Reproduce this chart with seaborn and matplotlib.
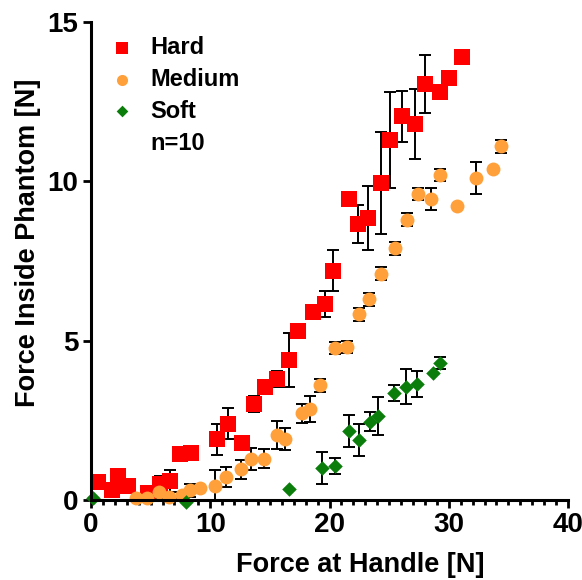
import matplotlib
matplotlib.use("Agg")
import matplotlib.pyplot as plt
from matplotlib.lines import Line2D
from matplotlib.ticker import MultipleLocator
import numpy as np
import pandas as pd
import seaborn as sns

# values
hard_x = [0.6, 1.8, 2.3, 3.1, 4.8, 5.8, 6.6, 7.5, 8.4, 10.6, 11.5, 12.7, 13.7,
          14.6, 15.6, 16.6, 17.4, 18.6, 19.6, 20.3, 21.6, 22.4, 23.2, 24.3,
          25.1, 26.1, 27.2, 28.0, 29.3, 30.0, 31.1]
hard_y = [0.55, 0.3, 0.75, 0.45, 0.22, 0.5, 0.6, 1.45, 1.47, 1.9, 2.4, 1.8,
          3.0, 3.55, 3.8, 4.4, 5.3, 5.9, 6.15, 7.2, 9.45, 8.65, 8.85, 9.95,
          11.3, 12.05, 11.8, 13.05, 12.8, 13.25, 13.9]
hard_err = [0.2, 0.0, 0.2, 0.0, 0.15, 0.25, 0.35, 0.0, 0.0, 0.5, 0.5, 0.0,
            0.25, 0.0, 0.25, 0.85, 0.2, 0.0, 0.4, 0.63, 0.0, 0.6, 1.0, 1.6,
            1.5, 0.8, 1.1, 0.9, 0.0, 0.0, 0.0]

medium_x = [3.8, 4.7, 5.7, 6.5, 7.6, 8.3, 9.1, 10.4, 11.3, 12.6, 13.4, 14.5,
            15.6, 16.3, 17.7, 18.4, 19.2, 20.5, 21.5, 22.5, 23.3, 24.3, 25.5,
            26.5, 27.4, 28.5, 29.3, 30.7, 32.3, 33.7, 34.4]
medium_y = [0.06, 0.06, 0.25, 0.1, 0.15, 0.3, 0.38, 0.45, 0.72, 0.97, 1.29,
            1.29, 2.04, 1.91, 2.72, 2.85, 3.6, 4.77, 4.8, 5.83, 6.3, 7.1, 7.9,
            8.8, 9.6, 9.45, 10.2, 9.22, 10.1, 10.4, 11.1]
medium_err = [0.0, 0.0, 0.2, 0.0, 0.1, 0.2, 0.0, 0.5, 0.3, 0.3, 0.35, 0.3,
              0.45, 0.35, 0.3, 0.4, 0.2, 0.2, 0.2, 0.2, 0.2, 0.2, 0.2, 0.2,
              0.2, 0.35, 0.2, 0.0, 0.5, 0.0, 0.2]

soft_x = [0.2, 8.0, 16.6, 19.4, 20.5, 21.6, 22.5, 23.4, 24.1, 25.4, 26.4,
          27.3, 28.7, 29.3]
soft_y = [0.06, -0.05, 0.34, 1.0, 1.07, 2.17, 1.88, 2.45, 2.64, 3.35, 3.55,
          3.64, 4.0, 4.3]
soft_err = [0.0, 0.0, 0.0, 0.5, 0.25, 0.5, 0.5, 0.3, 0.6, 0.25, 0.55, 0.4,
            0.0, 0.2]

groups = ["Hard", "Medium", "Soft"]
colors = {"Hard": "#FF0000", "Medium": "#FFA03A", "Soft": "#0A7D0A"}
markers = {"Hard": "s", "Medium": "o", "Soft": "D"}
sizes = {"Hard": 120, "Medium": 100, "Soft": 55}

df = pd.concat([
    pd.DataFrame({"x": hard_x, "y": hard_y, "err": hard_err, "group": "Hard"}),
    pd.DataFrame({"x": medium_x, "y": medium_y, "err": medium_err,
                  "group": "Medium"}),
    pd.DataFrame({"x": soft_x, "y": soft_y, "err": soft_err, "group": "Soft"}),
], ignore_index=True)

sns.set_style("ticks")
plt.rcParams["font.family"] = ["Liberation Sans", "DejaVu Sans"]
plt.rcParams["font.weight"] = "bold"
plt.rcParams["axes.labelweight"] = "bold"
for key in ["text.color", "axes.labelcolor", "xtick.color", "ytick.color",
            "xtick.labelcolor", "ytick.labelcolor"]:
    plt.rcParams[key] = "black"

fig = plt.figure(figsize=(5.82, 5.80), dpi=100)
ax = fig.add_axes([91 / 582, 80 / 580, 477 / 582, 478 / 580])

# error bars first so the markers sit on top
for g in groups:
    sub = df[(df["group"] == g) & (df["err"] > 0)]
    ax.errorbar(sub["x"], sub["y"], yerr=sub["err"], fmt="none",
                ecolor="black", elinewidth=1.4, capsize=4.5, capthick=1.4,
                zorder=2)

for g in groups:
    sub = df[df["group"] == g]
    sns.scatterplot(data=sub, x="x", y="y", color=colors[g],
                    marker=markers[g], s=sizes[g], linewidth=0,
                    label=g, zorder=2.4, clip_on=False, ax=ax)

ax.set_xlim(0, 40)
ax.set_ylim(0, 15)
ax.xaxis.set_major_locator(MultipleLocator(10))
ax.xaxis.set_minor_locator(MultipleLocator(1))
ax.yaxis.set_major_locator(MultipleLocator(5))
sns.despine(ax=ax)
for side in ["left", "bottom"]:
    ax.spines[side].set_linewidth(2.2)
    ax.spines[side].set_color("black")
    ax.spines[side].set_zorder(2.5)
ax.tick_params(axis="both", which="major", length=6, width=2.0,
               labelsize=20, color="black", labelcolor="black", pad=3)
ax.tick_params(axis="x", which="minor", length=3.5, width=2.0, color="black")
for lab in ax.get_xticklabels() + ax.get_yticklabels():
    lab.set_fontweight("bold")

ax.set_xlabel("Force at Handle [N]", fontsize=19.5, fontweight="bold",
              color="black")
ax.set_ylabel("Force Inside Phantom [N]", fontsize=19.5, fontweight="bold",
              color="black")
ax.xaxis.set_label_coords(0.564, -0.108)
ax.yaxis.set_label_coords(-0.105, 0.538)

handles, labels = ax.get_legend_handles_labels()
handles.append(Line2D([], [], linestyle="none", marker="none"))
labels.append("n=10")
ax.legend(handles, labels, loc="upper left", frameon=False,
          prop={"weight": "bold", "size": 17}, handlelength=1.2,
          handletextpad=0.6, labelspacing=0.38, borderaxespad=0,
          markerscale=0.8, labelcolor="black",
          bbox_to_anchor=(0.016, 0.991))

fig.savefig("out.png", dpi=100)
